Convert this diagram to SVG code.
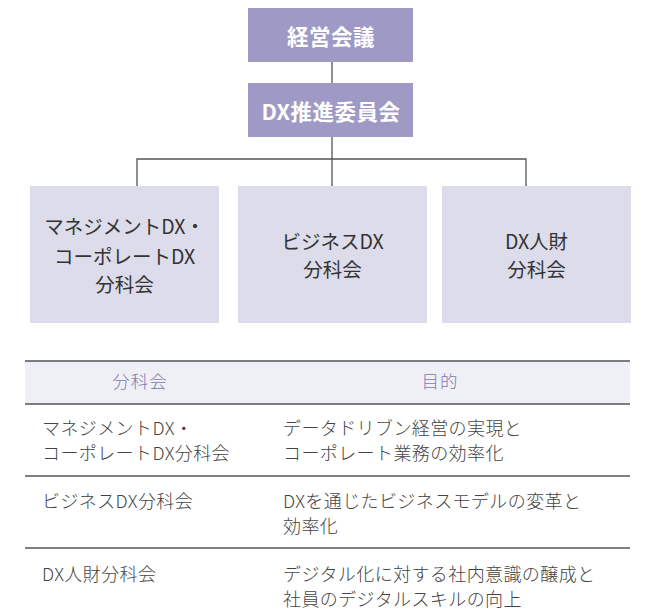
<svg xmlns="http://www.w3.org/2000/svg" width="658" height="613" viewBox="0 0 658 613">
<style>
text{font-family:"Noto Sans CJK JP","Noto Sans",sans-serif}
.top{fill:#9e99c5}
.sub{fill:#dddcea}
.tt{fill:#ffffff;font-size:21.5px;font-weight:bold;text-anchor:middle;letter-spacing:0.5px}
.st{fill:#333333;font-size:19.5px;text-anchor:middle}
.hd{fill:#7f7aad;font-size:17.5px;text-anchor:middle;letter-spacing:1px;font-weight:300}
.td{fill:#444444;font-size:18px;font-weight:300;letter-spacing:0.4px}
.ln{stroke:#555555;stroke-width:1.3;fill:none}
.tl{stroke:#555555;stroke-width:1.3}
</style>
<rect width="658" height="613" fill="#ffffff"/>
<g id="connectors">
<path class="ln" d="M332 62 V83"/>
<path class="ln" d="M332 137 V159 M137 186 V159 H526 V186 M332 159 V186"/>
</g>
<g id="keiei">
<rect class="top" x="248" y="8" width="165" height="54"/>
<text class="tt" x="331" y="45">経営会議</text>
</g>
<g id="dx-suishin">
<rect class="top" x="248" y="83" width="165" height="54"/>
<text class="tt" x="331" y="120">DX推進委員会</text>
</g>
<g id="management">
<rect class="sub" x="30" y="186" width="189" height="137"/>
<text class="st" x="124.5" y="234">マネジメントDX・</text>
<text class="st" x="124.5" y="264">コーポレートDX</text>
<text class="st" x="124.5" y="292">分科会</text>
</g>
<g id="business">
<rect class="sub" x="238" y="186" width="189" height="137"/>
<text class="st" x="332.5" y="249">ビジネスDX</text>
<text class="st" x="332.5" y="277">分科会</text>
</g>
<g id="jinzai">
<rect class="sub" x="442" y="186" width="189" height="137"/>
<text class="st" x="536.5" y="249">DX人財</text>
<text class="st" x="536.5" y="277">分科会</text>
</g>
<g id="table">
<rect x="25" y="361" width="605" height="43" fill="#efeff6"/>
<line class="tl" x1="25" y1="361" x2="630" y2="361"/>
<line class="tl" x1="25" y1="404" x2="630" y2="404"/>
<line class="tl" x1="25" y1="476" x2="630" y2="476"/>
<line class="tl" x1="25" y1="548" x2="630" y2="548"/>
<text class="hd" x="140" y="388">分科会</text>
<text class="hd" x="440" y="388">目的</text>
<text class="td" x="42" y="435">マネジメントDX・</text>
<text class="td" x="42" y="460">コーポレートDX分科会</text>
<text class="td" x="283" y="435">データドリブン経営の実現と</text>
<text class="td" x="283" y="460">コーポレート業務の効率化</text>
<text class="td" x="42" y="508">ビジネスDX分科会</text>
<text class="td" x="283" y="508">DXを通じたビジネスモデルの変革と</text>
<text class="td" x="283" y="533">効率化</text>
<text class="td" x="42" y="581">DX人財分科会</text>
<text class="td" x="283" y="581">デジタル化に対する社内意識の醸成と</text>
<text class="td" x="283" y="606">社員のデジタルスキルの向上</text>
</g>
</svg>
